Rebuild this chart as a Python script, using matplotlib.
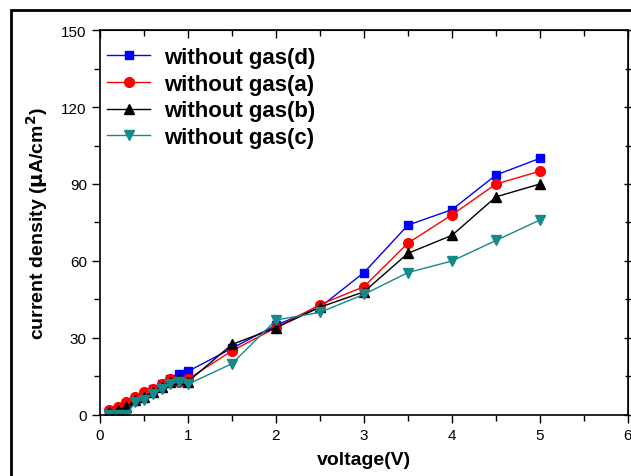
"""Current density vs voltage for four samples without gas."""
import matplotlib
matplotlib.use("Agg")
import matplotlib.pyplot as plt
from matplotlib.patches import Rectangle

voltage = [0.1, 0.2, 0.3, 0.4, 0.5, 0.6, 0.7, 0.8, 0.9, 1.0,
           1.5, 2.0, 2.5, 3.0, 3.5, 4.0, 4.5, 5.0]

gas_d = [1, 2, 4, 6, 8, 10, 12, 14, 16, 17,
         26, 35, 42, 55.5, 74, 80, 93.5, 100]
gas_a = [2, 3, 5, 7, 9, 10, 12, 14, 13, 14,
         25, 34, 43, 50, 67, 78, 90, 95]
gas_b = [1, 2, 3, 6, 7, 9, 11, 13, 14, 13,
         27.5, 34, 42, 48, 63, 70, 85, 90]
gas_c = [0, 0, 0, 5, 6, 8, 10, 12, 13, 12,
         20, 37, 40, 47, 55.5, 60, 68, 76]

labels = ["without gas(d)", "without gas(a)", "without gas(b)", "without gas(c)"]

x_major = list(range(0, 7))
x_minor = [x + 0.5 for x in range(0, 6)]
y_major = list(range(0, 151, 30))
y_minor = list(range(15, 150, 30))

plt.rcParams["font.family"] = ["Liberation Sans", "DejaVu Sans"]

fig = plt.figure(figsize=(6.31, 4.77), dpi=100)
ax = fig.add_axes([0.1585, 0.1279, 0.9952 - 0.1585, 0.935 - 0.1279])

# outer frame that runs off the right/bottom of the image
fig.patches.append(Rectangle((11 / 631, -0.1), 1.2, 1 - 11 / 477 + 0.1,
                             transform=fig.transFigure, fill=False,
                             edgecolor="black", linewidth=2))

ax.plot(voltage, gas_d, color="blue", marker="s", markersize=6, lw=1,
        label=labels[0])
ax.plot(voltage, gas_a, color="red", marker="o", markersize=7, lw=1,
        label=labels[1])
ax.plot(voltage, gas_b, color="black", marker="^", markersize=7, lw=1,
        label=labels[2])
ax.plot(voltage, gas_c, color="#148a8a", marker="v", markersize=7, lw=1,
        label=labels[3])

ax.set_xlim(0, 6)
ax.set_ylim(0, 150)
ax.set_xticks(x_major)
ax.set_xticks(x_minor, minor=True)
ax.set_yticks(y_major)
ax.set_yticks(y_minor, minor=True)

ax.tick_params(which="both", direction="out", labelsize=11, width=1)
ax.tick_params(which="major", length=6)
ax.tick_params(which="minor", length=4)
for spine in ax.spines.values():
    spine.set_linewidth(1.2)

# top axis: ticks pointing in, right axis: ticks crossing
top = ax.secondary_xaxis("top")
top.set_xticks(x_major, labels=[])
top.set_xticks(x_minor, minor=True)
top.tick_params(which="both", direction="in", width=1)
top.tick_params(which="major", length=6)
top.tick_params(which="minor", length=4)
right = ax.secondary_yaxis("right")
right.set_yticks(y_major, labels=[])
right.set_yticks(y_minor, minor=True)
right.tick_params(which="both", direction="inout", width=1)
right.tick_params(which="major", length=6)
right.tick_params(which="minor", length=4)

ax.set_xlabel("voltage(V)", fontsize=14, fontweight="bold", labelpad=6)
ax.set_ylabel(r"current density ($\mathbf{\mu}$A/cm$^\mathbf{2}$)",
              fontsize=14, fontweight="bold", labelpad=8)

ax.legend(loc="upper left", frameon=False,
          bbox_to_anchor=(0.0133, 0.956),
          prop={"weight": "bold", "size": 16},
          handlelength=1.95, handletextpad=0.63, labelspacing=0.26,
          borderaxespad=0, borderpad=0)

fig.savefig("out.png", dpi=100)
